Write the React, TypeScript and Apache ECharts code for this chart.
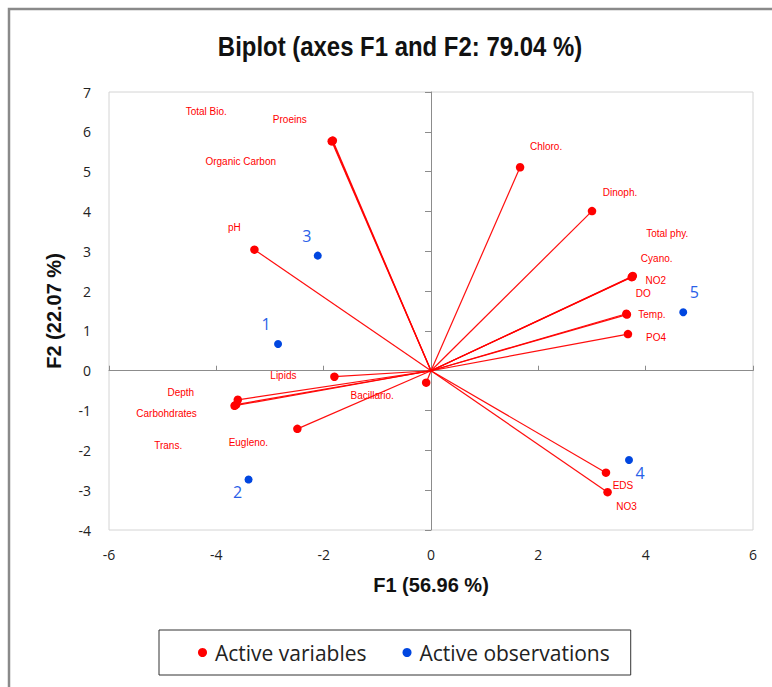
import React, { useEffect, useRef } from "react";
import * as echarts from "echarts";

// ----- data -----
const variableNames = [
  "Total Bio.", "Proeins", "Organic Carbon", "pH", "Chloro.", "Dinoph.",
  "Total phy.", "Cyano.", "NO2", "DO", "Temp.", "PO4", "EDS", "NO3",
  "Lipids", "Bacillario.", "Depth", "Carbohdrates", "Trans.", "Eugleno.",
];
const variableF1 = [
  -1.84, -1.83, -1.85, -3.29, 1.66, 3.0,
  3.75, 3.74, 3.76, 3.64, 3.65, 3.67, 3.26, 3.29,
  -1.8, -0.09, -3.6, -3.66, -3.63, -2.49,
];
const variableF2 = [
  5.77, 5.78, 5.76, 3.04, 5.11, 4.01,
  2.36, 2.35, 2.38, 1.43, 1.41, 0.92, -2.56, -3.05,
  -0.15, -0.3, -0.73, -0.88, -0.85, -1.46,
];
const observationNames = ["1", "2", "3", "4", "5"];
const observationF1 = [-2.85, -3.4, -2.11, 3.69, 4.7];
const observationF2 = [0.67, -2.73, 2.89, -2.24, 1.47];

const xTicks = { min: -6, max: 6, interval: 2 };
const yTicks = { min: -4, max: 7, interval: 1 };

// label placement (styling, pixels from the point)
const variableLabelOffsets = [
  [-126, -29], [-43, -21], [-91, 20], [-20, -22], [26, -21], [28, -19],
  [35, -43], [25, -19], [23, 5], [17, -20], [25, 0], [28, 3], [17, 13], [19, 14],
  [-51, -1], [-54, 13], [-57, -7], [-68, 8], [-68, 41], [-49, 14],
];
const observationLabelOffsets = [
  [-12, -20], [-11, 13], [-11, -20], [11, 13], [11, -20],
];

const RED = "#ff0000";
const BLUE = "#0046e0";
const LABEL_FONT = "'Liberation Sans', Arial, sans-serif";

export default function App() {
  const ref = useRef<HTMLDivElement>(null);

  useEffect(() => {
    document.body.style.margin = "0";
    const chart = echarts.init(ref.current!, undefined, { renderer: "svg" });

    const varData = variableNames.map((n, i) => ({
      name: n,
      value: [variableF1[i], variableF2[i]],
    }));
    const obsData = observationNames.map((n, i) => ({
      name: n,
      value: [observationF1[i], observationF2[i]],
    }));
    const lineData = variableNames.map((n, i) => ({
      coords: [
        [0, 0],
        [variableF1[i], variableF2[i]],
      ],
    }));

    const tickLabel = {
      color: "#222",
      fontSize: 14,
      fontFamily: "'Open Sans', 'Liberation Sans', sans-serif",
    };
    const axisNameStyle = {
      fontSize: 20,
      fontWeight: "bold",
      color: "#111",
      fontFamily: "'Liberation Sans', Arial, sans-serif",
    };

    chart.setOption({
      animation: false,
      backgroundColor: "#fff",
      graphic: [
        {
          type: "rect",
          shape: { x: 9, y: 9, width: 800, height: 700 },
          style: { fill: "none", stroke: "#8a8a8a", lineWidth: 2.5 },
          silent: true,
        },
        {
          type: "text",
          x: 400,
          y: 46,
          scaleX: 0.855,
          style: {
            text: "Biplot (axes F1 and F2: 79.04 %)",
            fontSize: 28,
            fontWeight: "bold",
            fill: "#111",
            fontFamily: "'Liberation Sans', Arial, sans-serif",
            textAlign: "center",
            textVerticalAlign: "middle",
            verticalAlign: "middle",
          },
          silent: true,
        },
      ],
      legend: {
        data: ["Active variables", "Active observations"],
        left: 159,
        top: 630,
        padding: [12, 21, 12, 39],
        itemGap: 36,
        itemWidth: 9,
        itemHeight: 9,
        borderColor: "#333",
        borderWidth: 1,
        textStyle: {
          fontSize: 21,
          color: "#222",
          padding: [0, 0, 0, 3],
          fontFamily: "'Open Sans', 'Liberation Sans', sans-serif",
        },
      },
      grid: {
        left: 109,
        right: 19,
        top: 92,
        bottom: 157,
        show: true,
        borderColor: "#d4d4d4",
        borderWidth: 1,
      },
      xAxis: [
        {
          type: "value",
          ...xTicks,
          position: "bottom",
          axisLine: { show: false, onZero: false },
          axisTick: { show: false },
          splitLine: { show: false },
          axisLabel: { ...tickLabel, margin: 17 },
          name: "F1 (56.96 %)",
          nameLocation: "middle",
          nameGap: 45,
          nameTextStyle: axisNameStyle,
        },
        {
          type: "value",
          ...xTicks,
          axisLine: { show: true, onZero: true, onZeroAxisIndex: 0, lineStyle: { color: "#8c8c8c", width: 1 } },
          axisTick: { show: true, length: 5, inside: false, lineStyle: { color: "#8c8c8c" } },
          axisLabel: { show: false },
          splitLine: { show: false },
        },
      ],
      yAxis: [
        {
          type: "value",
          ...yTicks,
          position: "left",
          axisLine: { show: false, onZero: false },
          axisTick: { show: false },
          splitLine: { show: false },
          axisLabel: { ...tickLabel, margin: 18 },
          name: "F2 (22.07 %)",
          nameLocation: "middle",
          nameRotate: 90,
          nameGap: 45,
          nameTextStyle: axisNameStyle,
        },
        {
          type: "value",
          ...yTicks,
          axisLine: { show: true, onZero: true, onZeroAxisIndex: 0, lineStyle: { color: "#8c8c8c", width: 1 } },
          axisTick: { show: true, length: 6, inside: true, lineStyle: { color: "#8c8c8c" } },
          axisLabel: { show: false },
          splitLine: { show: false },
        },
      ],
      series: [
        {
          type: "lines",
          name: "vectors",
          coordinateSystem: "cartesian2d",
          xAxisIndex: 0,
          yAxisIndex: 0,
          data: lineData,
          silent: true,
          lineStyle: { color: RED, width: 1.2, opacity: 0.95 },
          z: 3,
        },
        {
          type: "scatter",
          name: "Active variables",
          xAxisIndex: 0,
          yAxisIndex: 0,
          data: varData,
          symbol: "circle",
          symbolSize: 8.5,
          itemStyle: { color: RED, opacity: 1 },
          z: 4,
          label: {
            show: true,
            position: "inside",
            formatter: "{b}",
            color: RED,
            fontSize: 10,
            fontFamily: LABEL_FONT,
          },
          labelLayout: (p: any) => ({
            dx: variableLabelOffsets[p.dataIndex][0],
            dy: variableLabelOffsets[p.dataIndex][1],
            hideOverlap: false,
          }),
        },
        {
          type: "scatter",
          name: "Active observations",
          xAxisIndex: 0,
          yAxisIndex: 0,
          data: obsData,
          symbol: "circle",
          symbolSize: 8,
          itemStyle: { color: BLUE, opacity: 1 },
          z: 4,
          label: {
            show: true,
            position: "inside",
            formatter: "{b}",
            color: "#2a5fe8",
            fontSize: 16,
            fontFamily: "'Open Sans', 'Liberation Sans', sans-serif",
          },
          labelLayout: (p: any) => ({
            dx: observationLabelOffsets[p.dataIndex][0],
            dy: observationLabelOffsets[p.dataIndex][1],
          }),
        },
      ],
    });

    return () => chart.dispose();
  }, []);

  return <div ref={ref} style={{ width: 772, height: 687 }} />;
}
